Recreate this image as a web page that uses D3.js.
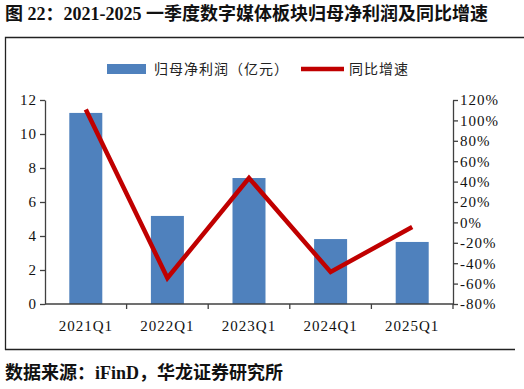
<!DOCTYPE html>
<html>
<head>
<meta charset="utf-8">
<script src="https://cdn.jsdelivr.net/npm/d3@7"></script>
<style>
  body { margin: 0; background: #fff; }
  svg { display: block; }
</style>
</head>
<body>
<svg id="chart" width="524" height="389"></svg>
<script>
// data
const quarters = ["2021Q1", "2022Q1", "2023Q1", "2024Q1", "2025Q1"];
const profit = [11.24, 5.18, 7.41, 3.82, 3.65];        // 归母净利润（亿元）
const growth = [110.7, -54.5, 43.5, -48.6, -4.5];       // 同比增速 %
const leftTicks = [0, 2, 4, 6, 8, 10, 12];
const rightTicks = [-80, -60, -40, -20, 0, 20, 40, 60, 80, 100, 120];

const svg = d3.select("#chart");
const serif = "'Liberation Serif', 'Times New Roman', serif";
const cjk = "'Liberation Serif', 'Noto Sans CJK SC', serif";
const axisColor = "#404040";

const plotLeft = 45, plotRight = 453, plotTop = 100, plotBottom = 304;

// title
svg.append("text")
    .attr("x", 5).attr("y", 20)
    .attr("font-family", cjk)
    .attr("font-size", "18px")
    .attr("font-weight", "bold")
    .attr("fill", "#111")
    .text("图 22：2021-2025 一季度数字媒体板块归母净利润及同比增速");

// frame
svg.append("path")
    .attr("d", "M5.5,350 L5.5,37.5 L524,37.5")
    .attr("fill", "none").attr("stroke", "#222").attr("stroke-width", 1.3);
svg.append("line")
    .attr("x1", 5).attr("x2", 515).attr("y1", 349.5).attr("y2", 349.5)
    .attr("stroke", "#222").attr("stroke-width", 1.3);

const xb = d3.scaleBand().domain(quarters).range([plotLeft, plotRight]);
const y = d3.scaleLinear().domain([0, 12]).range([plotBottom, plotTop]);
const y2 = d3.scaleLinear().domain([-80, 120]).range([plotBottom, plotTop]);

// bars
svg.append("g")
    .selectAll("rect")
    .data(profit)
    .join("rect")
    .attr("x", (d, i) => xb(quarters[i]) + xb.bandwidth() / 2 - 16.5)
    .attr("width", 33)
    .attr("y", d => y(d))
    .attr("height", d => y(0) - y(d))
    .attr("fill", "#4f81bd");

const tickText = g => g.selectAll("text")
    .attr("font-family", serif).attr("font-size", "15px")
    .attr("letter-spacing", "1px").attr("fill", "#111");

// left axis
svg.append("g")
    .attr("transform", `translate(${plotLeft},0)`)
    .call(d3.axisLeft(y).tickValues(leftTicks).tickSize(5).tickSizeOuter(0).tickPadding(3))
    .call(g => g.selectAll("line, path").attr("stroke", axisColor).attr("stroke-width", 1.3))
    .call(tickText);

// right axis
svg.append("g")
    .attr("transform", `translate(${plotRight},0)`)
    .call(d3.axisRight(y2).tickValues(rightTicks).tickSize(5).tickSizeOuter(0).tickPadding(2)
        .tickFormat(d => d + "%"))
    .call(g => g.selectAll("line, path").attr("stroke", axisColor).attr("stroke-width", 1.3))
    .call(tickText);

// x axis, ticks between categories
const xAxis = svg.append("g").attr("transform", `translate(0,${plotBottom})`);
xAxis.append("line")
    .attr("x1", plotLeft).attr("x2", plotRight)
    .attr("stroke", axisColor).attr("stroke-width", 1.3);
xAxis.selectAll("line.tick")
    .data(quarters)
    .join("line")
    .attr("class", "tick")
    .attr("x1", d => xb(d) + xb.bandwidth())
    .attr("x2", d => xb(d) + xb.bandwidth())
    .attr("y1", 0).attr("y2", 5)
    .attr("stroke", axisColor).attr("stroke-width", 1.3);
xAxis.selectAll("text")
    .data(quarters)
    .join("text")
    .attr("x", d => xb(d) + xb.bandwidth() / 2)
    .attr("y", 27)
    .attr("text-anchor", "middle")
    .text(d => d);
xAxis.call(tickText);

// growth line
const line = d3.line()
    .x((d, i) => xb(quarters[i]) + xb.bandwidth() / 2)
    .y(d => y2(d));
svg.append("path")
    .datum(growth)
    .attr("d", line)
    .attr("fill", "none")
    .attr("stroke", "#c00000")
    .attr("stroke-width", 4.5)
    .attr("stroke-linejoin", "miter");

// legend
const legend = svg.append("g")
    .attr("font-family", "'Noto Sans CJK SC', sans-serif")
    .attr("font-size", "14px").attr("letter-spacing", "1px").attr("fill", "#222");
legend.append("rect").attr("x", 107).attr("y", 64).attr("width", 39).attr("height", 10).attr("fill", "#4f81bd");
legend.append("text").attr("x", 154).attr("y", 74).text("归母净利润（亿元）");
legend.append("line").attr("x1", 301).attr("x2", 344).attr("y1", 69).attr("y2", 69)
    .attr("stroke", "#c00000").attr("stroke-width", 4.5);
legend.append("text").attr("x", 349).attr("y", 74).text("同比增速");

// source
svg.append("text")
    .attr("x", 5).attr("y", 379)
    .attr("font-family", cjk)
    .attr("font-size", "18px")
    .attr("font-weight", "bold")
    .attr("fill", "#111")
    .text("数据来源：iFinD，华龙证券研究所");
</script>
</body>
</html>
